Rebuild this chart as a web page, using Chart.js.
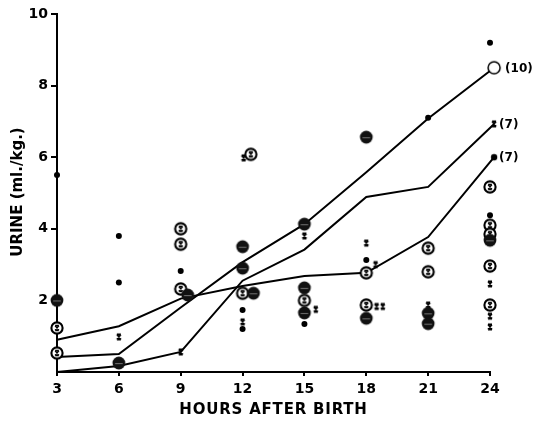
<!DOCTYPE html>
<html>
<head>
<meta charset="utf-8">
<script src="https://cdn.jsdelivr.net/npm/chart.js@4/dist/chart.umd.min.js"></script>
<style>
  html, body { margin: 0; padding: 0; background: #fff; }
  canvas { display: block; }
</style>
</head>
<body>
<canvas id="c" width="538" height="421"></canvas>
<script>
// Hours after birth on the x axis
const hourTicks = [3, 6, 9, 12, 15, 18, 21, 24];
const urineTicks = [0, 2, 4, 6, 8, 10];

// Mean cumulative urine (ml/kg) for each group
const lineHours   = [3, 6, 9, 12, 15, 18, 21, 24.2];
const groupTen    = [0.42, 0.5, 1.8, 3.07, 4.13, 5.58, 7.08, 8.5];
const groupSevenX = [0.0, 0.17, 0.56, 2.55, 3.42, 4.89, 5.17, 6.93];
const groupSevenD = [0.9, 1.28, 2.05, 2.4, 2.68, 2.77, 3.77, 6.0];
const groupLabels = ['(10)', '(7)', '(7)'];

// Individual values: [hour, ml/kg]
const smallDots = [[3, 5.5], [6, 3.8], [6, 2.5], [9, 2.82], [12, 1.73], [12, 1.2],
  [15, 1.34], [18, 3.13], [21, 7.1], [24, 9.2], [24, 4.38]];
const crossMarks = [[6, 0.98], [9, 0.56], [12.05, 5.98], [12, 1.4], [15, 3.8], [15.55, 1.75],
  [18, 3.6], [18.45, 3.0], [18.5, 1.83], [18.8, 1.83], [21, 1.87], [24.35, 3.1],
  [24, 2.46], [24, 1.56], [24, 1.26]];
const solidCircles = [[3, 2.0], [6, 0.25], [9.34, 2.15], [12, 3.5], [12, 2.9], [12.53, 2.2],
  [15, 4.13], [15, 2.35], [15, 1.65], [18, 6.56], [18, 1.5], [21, 1.64], [21, 1.35],
  [24, 3.68], [24.3, 3.9]];
const ringedCrosses = [[3, 1.23], [3, 0.53], [9, 4.0], [9, 3.57], [9, 2.32], [12.4, 6.08],
  [12, 2.2], [15, 2.0], [18, 2.77], [18, 1.87], [21, 3.46], [21, 2.8], [24, 5.17],
  [24, 4.1], [24, 3.85], [24, 2.96], [24, 1.87]];

const FONT = '"DejaVu Sans", sans-serif';

// ---- marker glyphs ----
function glyph(size, draw) {
  const cv = document.createElement('canvas');
  cv.width = size; cv.height = size;
  const g = cv.getContext('2d');
  g.translate(size / 2, size / 2);
  draw(g);
  return cv;
}
function hourglassX(g, w, h, lw) {
  g.strokeStyle = '#000'; g.lineWidth = lw; g.lineCap = 'butt';
  g.beginPath();
  g.moveTo(-w, -h); g.lineTo(w, h);
  g.moveTo(w, -h); g.lineTo(-w, h);
  g.moveTo(-w, -h); g.lineTo(w, -h);
  g.moveTo(-w, h); g.lineTo(w, h);
  g.stroke();
}
const xGlyph = glyph(10, g => hourglassX(g, 2.0, 2.6, 1.6));
const ringGlyph = glyph(16, g => {
  g.beginPath(); g.arc(0, 0, 5.6, 0, Math.PI * 2);
  g.fillStyle = '#fff'; g.fill();
  g.lineWidth = 2.1; g.strokeStyle = '#000'; g.stroke();
  hourglassX(g, 1.9, 2.4, 1.5);
});
const solidGlyph = glyph(16, g => {
  g.beginPath(); g.arc(0, 0, 6.4, 0, Math.PI * 2);
  g.fillStyle = '#111'; g.fill();
  g.beginPath(); g.moveTo(-3.8, 0.6); g.lineTo(3.8, 0.6);
  g.strokeStyle = '#777'; g.lineWidth = 1; g.stroke();
});
const openGlyph = glyph(16, g => {
  g.beginPath(); g.arc(0, 0, 6, 0, Math.PI * 2);
  g.fillStyle = '#fff'; g.fill();
  g.lineWidth = 1.5; g.strokeStyle = '#000'; g.stroke();
});
const endDot = glyph(10, g => {
  g.beginPath(); g.arc(0, 0, 3.2, 0, Math.PI * 2);
  g.fillStyle = '#000'; g.fill();
});

const pts = arr => arr.map(([x, y]) => ({ x, y }));
const linePts = vals => lineHours.map((h, i) => ({ x: h, y: vals[i] }));
const endOnly = style => ctx => ctx.dataIndex === lineHours.length - 1 ? style : false;

function lineSet(vals, marker, label) {
  return {
    type: 'scatter', label, data: linePts(vals), showLine: true,
    borderColor: '#000', borderWidth: 2, tension: 0, clip: false, order: 2,
    pointStyle: endOnly(marker),
    pointRadius: ctx => ctx.dataIndex === lineHours.length - 1 ? 6 : 0,
    pointBackgroundColor: '#000', pointBorderWidth: 0
  };
}
function markSet(arr, style, radius) {
  return {
    type: 'scatter', data: pts(arr), clip: false, order: 1,
    pointStyle: style, pointRadius: radius,
    pointBackgroundColor: '#000', pointBorderColor: '#000', pointBorderWidth: 0
  };
}

const titles = {
  id: 'titles',
  afterDraw(chart) {
    const ctx = chart.ctx, area = chart.chartArea;
    ctx.save();
    ctx.fillStyle = '#000';
    ctx.font = 'bold 15px ' + FONT;
    ctx.textAlign = 'center'; ctx.textBaseline = 'middle';
    ctx.letterSpacing = '0.8px';
    ctx.fillText('HOURS AFTER BIRTH', (area.left + area.right) / 2, 410);
    ctx.translate(18, 192);
    ctx.rotate(-Math.PI / 2);
    ctx.letterSpacing = '0px';
    ctx.fillText('URINE (ml./kg.)', 0, 0);
    ctx.restore();

    // group size beside each line end
    ctx.save();
    ctx.font = 'bold 12px ' + FONT;
    ctx.textAlign = 'left'; ctx.textBaseline = 'middle';
    ctx.fillStyle = '#000';
    const gaps = [11, 5, 5];
    for (let i = 0; i < 3; i++) {
      const meta = chart.getDatasetMeta(i);
      const p = meta.data[meta.data.length - 1];
      ctx.fillText(groupLabels[i], p.x + gaps[i], p.y + 1);
    }
    ctx.restore();
  }
};

new Chart(document.getElementById('c'), {
  type: 'scatter',
  data: {
    datasets: [
      lineSet(groupTen, openGlyph, groupLabels[0]),
      lineSet(groupSevenX, xGlyph, groupLabels[1]),
      lineSet(groupSevenD, endDot, groupLabels[2]),
      markSet(solidCircles, solidGlyph, 7),
      markSet(ringedCrosses, ringGlyph, 6),
      markSet(smallDots, 'circle', 3),
      markSet(crossMarks, xGlyph, 3)
    ]
  },
  options: {
    responsive: false,
    devicePixelRatio: 1,
    animation: false,
    layout: { padding: { left: 0, right: 48, top: 14, bottom: 0 } },
    plugins: { legend: { display: false }, tooltip: { enabled: false } },
    scales: {
      x: {
        type: 'linear', min: hourTicks[0], max: hourTicks[hourTicks.length - 1],
        afterBuildTicks: s => { s.ticks = hourTicks.map(v => ({ value: v })); },
        afterFit: s => { s.height = 49; },
        border: { display: true, color: '#000', width: 2 },
        grid: { display: true, drawOnChartArea: false, drawTicks: true, tickLength: 4,
                color: '#000', lineWidth: 2 },
        ticks: { color: '#000', padding: 5, font: { family: FONT, size: 14, weight: 'bold' },
                 maxRotation: 0, autoSkip: false }
      },
      y: {
        type: 'linear', min: urineTicks[0], max: urineTicks[urineTicks.length - 1],
        afterBuildTicks: s => { s.ticks = urineTicks.map(v => ({ value: v })); },
        afterFit: s => { s.width = 57; },
        border: { display: true, color: '#000', width: 2 },
        grid: { display: true, drawOnChartArea: false, drawTicks: true, tickLength: 6,
                color: ctx => ctx.tick && ctx.tick.value === 0 ? 'rgba(0,0,0,0)' : '#000',
                lineWidth: 2 },
        ticks: { color: '#000', padding: 3, font: { family: FONT, size: 14, weight: 'bold' },
                 callback: v => v === 0 ? '' : String(v) }
      }
    }
  },
  plugins: [titles]
});
</script>
</body>
</html>
